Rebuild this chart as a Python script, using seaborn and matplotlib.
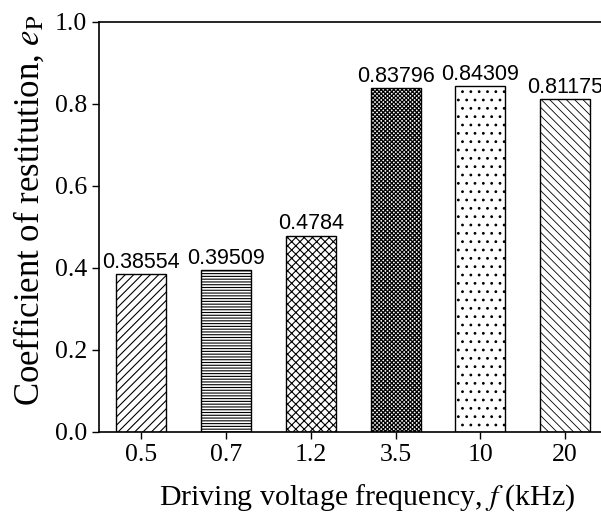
import matplotlib
matplotlib.use("Agg")
import matplotlib.pyplot as plt
import seaborn as sns
import pandas as pd

freqs = ["0.5", "0.7", "1.2", "3.5", "10", "20"]
values = [0.38554, 0.39509, 0.4784, 0.83796, 0.84309, 0.81175]
value_labels = ["0.38554", "0.39509", "0.4784", "0.83796", "0.84309", "0.81175"]
hatches = ["////", "------", "xxxx", "xxxxxxxx", "..", "\\\\\\\\"]
hatch_widths = [0.8, 0.8, 0.8, 0.9, 0.8, 0.6]
yticks = [0.0, 0.2, 0.4, 0.6, 0.8, 1.0]

sns.set_theme(style="ticks")
plt.rcParams["font.family"] = ["Liberation Serif", "DejaVu Serif"]
plt.rcParams["hatch.linewidth"] = 0.8
plt.rcParams["mathtext.fontset"] = "stix"
plt.rcParams["text.color"] = "black"

df = pd.DataFrame({"freq": freqs, "e": values})

fig = plt.figure(figsize=(6.01, 5.22), dpi=100)
ax = fig.add_axes([99 / 601, 90 / 522, 508.5 / 601, 410 / 522])

sns.barplot(data=df, x="freq", y="e", order=freqs, color="white",
            edgecolor="black", linewidth=1.0, width=0.59, ax=ax, saturation=1)

for p, h, hw in zip(ax.patches, hatches, hatch_widths):
    p.set_hatch(h)
    if hasattr(p, "set_hatch_linewidth"):
        p.set_hatch_linewidth(hw)
    p.set_facecolor("white")
    p.set_edgecolor("black")

ax.bar_label(ax.containers[0], labels=value_labels, padding=1,
             fontsize=15.5, family="Liberation Sans", color="black")

ax.set_ylim(0, 1.0)
ax.set_xlim(-0.5, 5.5)
ax.set_yticks(yticks)
ax.set_yticklabels([f"{t:.1f}" for t in yticks])
ax.tick_params(axis="both", direction="out", length=5, width=1,
               labelsize=18.5, color="black", labelcolor="black")
for s in ax.spines.values():
    s.set_visible(True)
    s.set_color("black")
    s.set_linewidth(1.2)

ax.set_xlabel(r"Driving voltage frequency, $\it{f}$ (kHz)", fontsize=21.5, color="black")
ax.set_ylabel(r"Coefficient of restitution, $\it{e}_{\rm P}$", fontsize=25, color="black")
ax.xaxis.label.set_va("center")
ax.yaxis.label.set_va("center")
ax.xaxis.set_label_coords(0.527, -0.159)
ax.yaxis.set_label_coords(-0.136, 0.541)

fig.savefig("out.png", dpi=100)
